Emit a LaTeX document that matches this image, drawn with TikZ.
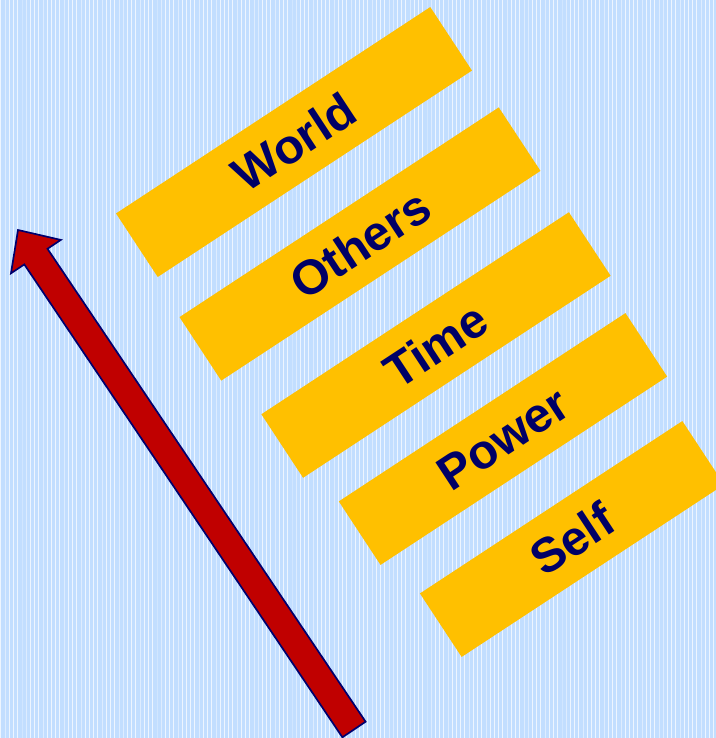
\documentclass[tikz,border=0pt]{standalone}
\usepackage{fontspec}
\setmainfont{Liberation Sans}
\usepackage{tikz}
\usetikzlibrary{shapes,patterns}
\definecolor{hellblau}{RGB}{194,222,255}
\definecolor{balkengelb}{RGB}{255,192,0}
\definecolor{schrift}{RGB}{0,0,102}
\definecolor{pfeilrot}{RGB}{192,0,0}
\definecolor{pfeilrand}{RGB}{0,0,110}
\def \px {0.025cm}
\def \winkel {33.3}
\def \balkenHoehe {76}
\tikzset{
  balken/.style={rotate=\winkel,fill=balkengelb,text=schrift,inner sep=0pt,
    minimum height=\balkenHoehe*\px,font=\fontsize{34.5}{38}\selectfont\bfseries},
  pfeil/.style={fill=pfeilrot,draw=pfeilrand,line width=1.2pt,line join=miter}
}

\begin{document}
\begin{tikzpicture}[x=\px,y=-\px]
  \useasboundingbox (0,0) rectangle (716,738);
  \fill[hellblau] (0,0) rectangle (716,738);
  \fill[pattern=vertical lines,pattern color=white!70!hellblau] (0,0) rectangle (716,738);
  \draw
  (294,142) node[balken,minimum width=376*\px] (world) {World}
  ++(66,102) node[balken,minimum width=382*\px] (others) {Others}
  ++(76,101) node[balken,minimum width=368*\px] (time) {Time}
  ++(67,94) node[balken,minimum width=343*\px] (power) {Power}
  ++(69,100) node[balken,minimum width=314*\px] (self) {Self}
  ;
  \coordinate (pfeilspitze) at (18,230);
  \draw[pfeil] (pfeilspitze) -- (60.8,239.9) -- (47.5,248.8) -- (365.6,721.7)
    -- (342.4,737.3) -- (24.3,264.4) -- (11,273.3) -- cycle;
\end{tikzpicture}
\end{document}
